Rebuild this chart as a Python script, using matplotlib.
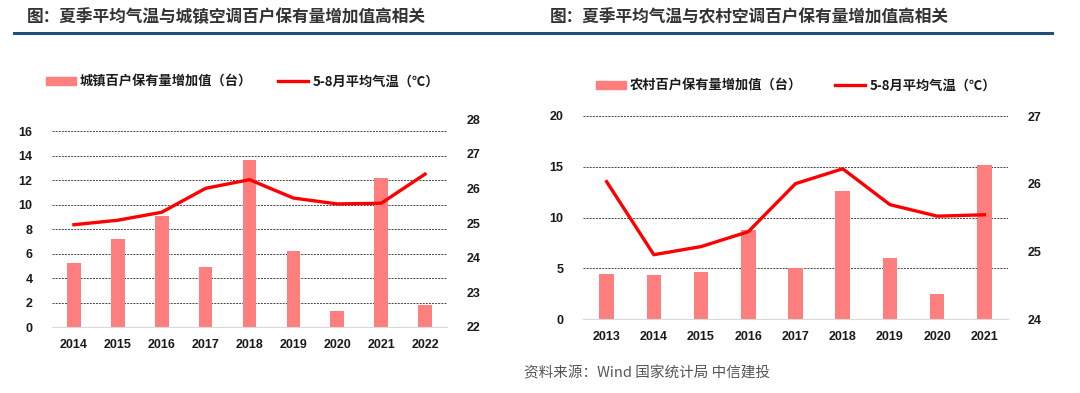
import matplotlib.pyplot as plt
from matplotlib.lines import Line2D
from matplotlib.patches import Rectangle

plt.rcParams['font.family'] = ['Noto Sans CJK SC', 'DejaVu Sans']

# left chart: urban
years_city = ['2014', '2015', '2016', '2017', '2018', '2019', '2020', '2021', '2022']
city_add = [5.2, 7.2, 9.1, 4.9, 13.6, 6.2, 1.3, 12.2, 1.8]
city_temp = [24.95, 25.08, 25.31, 26.0, 26.25, 25.72, 25.55, 25.57, 26.41]

# right chart: rural
years_rural = ['2013', '2014', '2015', '2016', '2017', '2018', '2019', '2020', '2021']
rural_add = [4.4, 4.3, 4.6, 8.8, 5.0, 12.6, 6.0, 2.5, 15.2]
rural_temp = [26.03, 24.95, 25.07, 25.29, 26.0, 26.22, 25.69, 25.52, 25.54]

W, H = 1080, 393
fig = plt.figure(figsize=(W / 100, H / 100), dpi=100)

BAR = '#FF7F7F'
RED = '#FF0000'
BLUE = '#1F4E79'
TXT = '#1a1a1a'
NUM = ['Liberation Sans', 'DejaVu Sans']


def box(x0, y0, x1, y1):
    # pixel box (top-left origin) -> figure fraction
    return [x0 / W, 1 - y1 / H, (x1 - x0) / W, (y1 - y0) / H]


def panel(rect, years, adds, temps, lticks, lmax, rlim, rticks):
    ax = fig.add_axes(rect)
    x = range(len(years))
    ax.bar(x, adds, width=0.31, color=BAR, zorder=2)
    ax.set_xlim(-0.5, len(years) - 0.5)
    ax.set_ylim(0, lmax)
    ax.set_yticks(lticks)
    ax.set_xticks(list(x))
    ax.set_xticklabels(years)
    for t in lticks[1:]:
        ax.axhline(t, color='#444444', lw=0.7, ls=(0, (2, 1.2)), zorder=1)
    for s in ['top', 'right', 'left']:
        ax.spines[s].set_visible(False)
    ax.spines['bottom'].set_color('#d9d9d9')
    ax.tick_params(length=0, labelsize=9, colors=TXT, pad=9)
    ax.tick_params(axis='y', pad=14)
    for lab in ax.get_xticklabels() + ax.get_yticklabels():
        lab.set_fontweight('bold')
        lab.set_family(NUM)

    ax2 = ax.twinx()
    ax2.plot(x, temps, color=RED, lw=2.4, zorder=3)
    ax2.set_ylim(*rlim)
    ax2.set_yticks(rticks)
    for s in ['top', 'right', 'left', 'bottom']:
        ax2.spines[s].set_visible(False)
    ax2.tick_params(length=0, labelsize=9, colors=TXT, pad=14)
    for lab in ax2.get_yticklabels():
        lab.set_fontweight('bold')
        lab.set_family(NUM)
    return ax


panel(box(52, 119, 447, 327), years_city, city_add, city_temp,
      list(range(0, 17, 2)), 16.98, (22, 28), list(range(22, 29)))
panel(box(583, 116, 1008, 319), years_rural, rural_add, rural_temp,
      [0, 5, 10, 15, 20], 20, (24, 27), [24, 25, 26, 27])

# titles and rule lines
fig.text(27 / W, 1 - 17 / H, '图：夏季平均气温与城镇空调百户保有量增加值高相关',
         fontsize=12, fontweight='bold', color='#333333', va='center')
fig.text(550 / W, 1 - 17 / H, '图：夏季平均气温与农村空调百户保有量增加值高相关',
         fontsize=12, fontweight='bold', color='#333333', va='center')
fig.add_artist(Line2D([14 / W, 1052 / W], [1 - 33 / H, 1 - 33 / H],
                      color=BLUE, lw=2.2))


# legends drawn by hand
def legend(px, py, bar_label, line_x):
    fig.add_artist(Rectangle((px / W, 1 - (py + 4) / H), 30 / W, 8 / H,
                             color=BAR, transform=fig.transFigure))
    fig.text((px + 34) / W, 1 - py / H, bar_label, fontsize=9.5,
             fontweight='bold', color=TXT, va='center')
    fig.add_artist(Line2D([line_x / W, (line_x + 30) / W], [1 - py / H, 1 - py / H],
                          color=RED, lw=2.4))
    fig.text((line_x + 35) / W, 1 - (py + 1) / H, '5-8月平均气温（℃）', fontsize=9.5,
             fontweight='bold', color=TXT, va='center')


legend(46, 81, '城镇百户保有量增加值（台）', 278)
legend(596, 85, '农村百户保有量增加值（台）', 835)

fig.text(524 / W, 1 - 373 / H, '资料来源：Wind 国家统计局 中信建投', fontsize=10.5,
         color='#555555', style='italic', va='center')

fig.savefig('out.png', dpi=100)
